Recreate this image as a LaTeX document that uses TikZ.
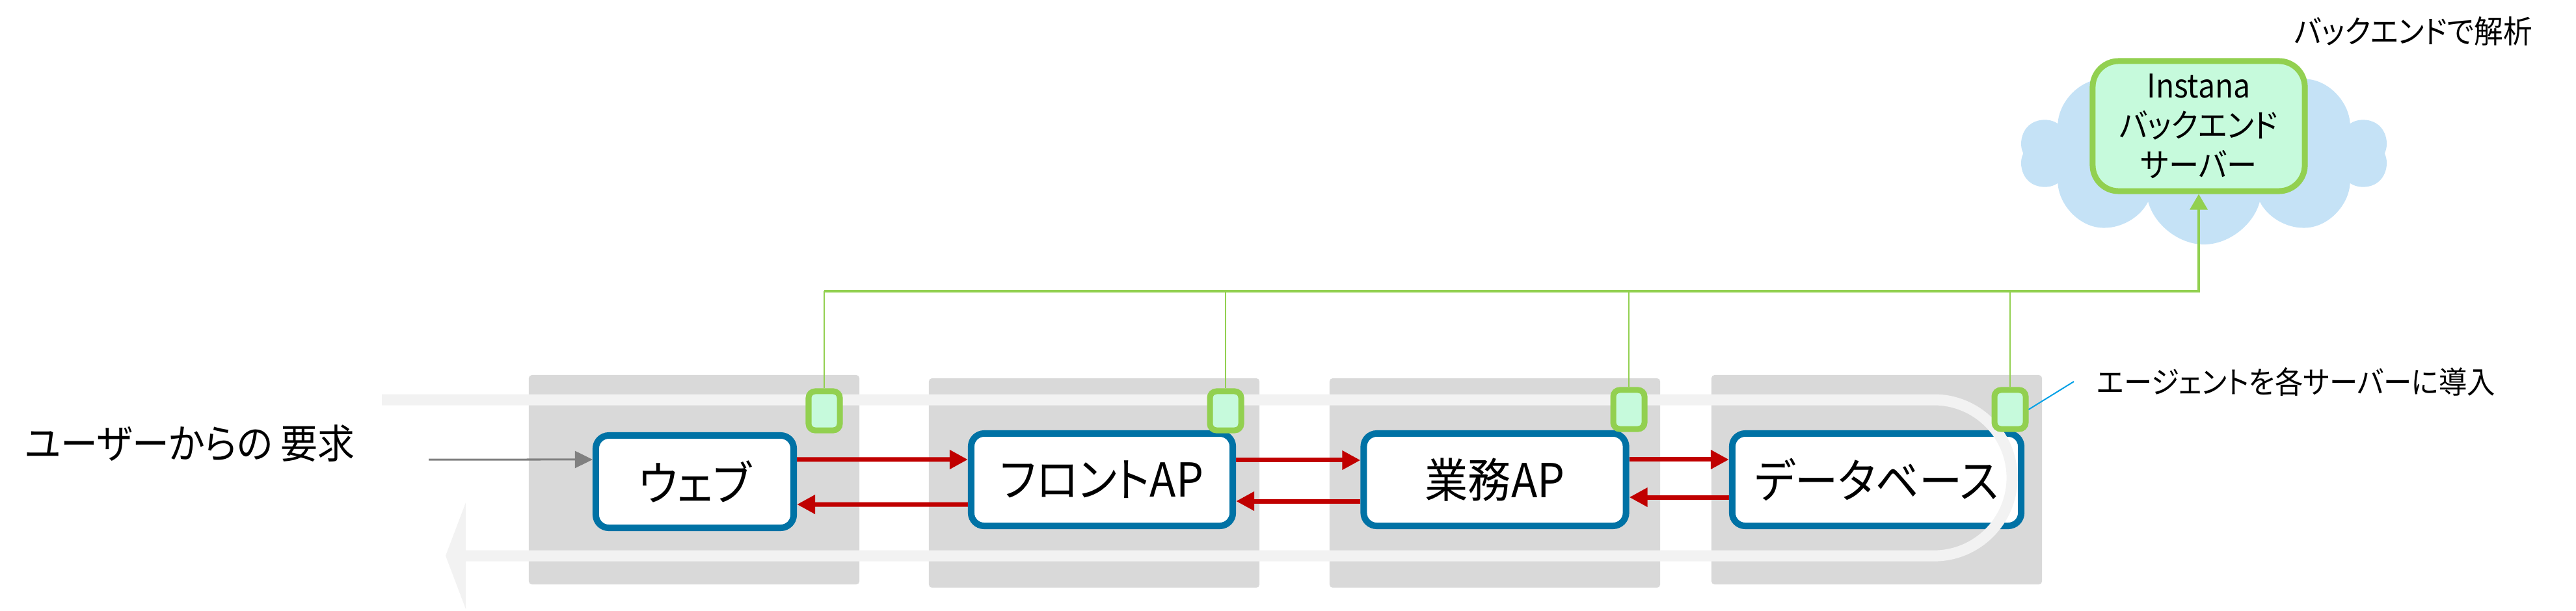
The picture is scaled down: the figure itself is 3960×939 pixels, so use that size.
\documentclass[tikz,border=0pt]{standalone}
\usepackage{xcolor}
\usepackage{fontspec}
\usepackage{tikz}
\usetikzlibrary{positioning,shapes,arrows.meta}
\setmainfont{Noto Sans CJK JP}[RawFeature=+palt, FakeStretch=0.92]
\definecolor{srvgray}{RGB}{217,217,217}
\definecolor{flowgray}{RGB}{242,242,242}
\definecolor{apblue}{RGB}{0,114,165}
\definecolor{agentgreen}{RGB}{146,208,80}
\definecolor{agentfill}{RGB}{198,250,220}
\definecolor{cloudblue}{RGB}{197,226,246}
\definecolor{reqred}{RGB}{192,0,0}
\definecolor{noteblue}{RGB}{0,160,230}

\begin{document}
\begin{tikzpicture}[
  x=0.01cm, y=-0.01cm,
  server/.style={rectangle, fill=srvgray, rounded corners=0.05cm, minimum width=5.08cm, minimum height=3.22cm, inner sep=0pt},
  box/.style={rectangle, draw=apblue, line width=0.1cm, fill=white, rounded corners=0.2cm, minimum height=1.42cm, font=\fontsize{20.5}{24}\selectfont},
  agent/.style={rectangle, draw=agentgreen, line width=0.09cm, fill=agentfill, rounded corners=0.1cm, minimum width=0.48cm, minimum height=0.6cm, inner sep=0pt},
  backend/.style={rectangle, draw=agentgreen, line width=0.09cm, fill=agentfill, rounded corners=0.4cm, minimum width=3.26cm, minimum height=2cm, align=center, font=\fontsize{14.3}{17.4}\selectfont},
  flow/.style={draw=flowgray, line width=0.17cm, -{Triangle[length=0.31cm,width=1.63cm]}},
  arrow/.style={draw=reqred, line width=0.07cm, -{Triangle[length=0.28cm,width=0.28cm]}},
  reqarrow/.style={draw=gray, line width=0.03cm, -{Triangle[length=0.27cm,width=0.26cm]}},
  link/.style={draw=agentgreen, line width=0.02cm},
  trunk/.style={draw=agentgreen, line width=0.035cm},
  noteline/.style={draw=noteblue, line width=0.02cm}
]
  \useasboundingbox (0,0) rectangle (3960,939);

  % Servers
  \node[server] (srv1) at (1067,738) {};
  \node[server] (srv2) at (1682,743) {};
  \node[server] (srv3) at (2298,743) {};
  \node[server] (srv4) at (2885,738) {};

  % Nodes
  \node[box, minimum width=3.04cm] (web) at (1068,741) {ウェブ};
  \node[box, minimum width=4.02cm] (front) at (1694,738) {フロントAP};
  \node[box, minimum width=4.03cm] (biz) at (2298,738) {業務AP};
  \node[box, minimum width=4.44cm] (db) at (2885,738) {データベース};

  % Request flow
  \coordinate (flowin) at (587,615);
  \coordinate (flowturn) at (2973,615);
  \coordinate (flowout) at (685,855);
  \draw[flow] (flowin) -- (flowturn) arc[start angle=90, end angle=-90, radius=1.2cm] -- (flowout);

  % Agents
  \node[agent] (ag1) at (1267,632) {};
  \node[agent] (ag2) at (1884,632) {};
  \node[agent] (ag3) at (2504,630) {};
  \node[agent] (ag4) at (3090,630) {};

  % Backend
  \node[cloud, cloud puffs=10, aspect=2, fill=cloudblue, minimum width=5.65cm, minimum height=2.8cm] (cloud) at (3388,236) {};
  \node[backend] (instana) at (3380,194) {Instana\\バックエンド\\サーバー};
  \node[font=\fontsize{13.8}{16}\selectfont] (title) at (3710,48) {バックエンドで解析};
  \node[anchor=west, inner xsep=0.35cm, font=\fontsize{13.4}{16}\selectfont] (note) at (3188,587) {エージェントを各サーバーに導入};
  \node[font=\fontsize{17.6}{20}\selectfont] (req) at (292,682) {ユーザーからの 要求};
  \coordinate (reqin) at (659,707);
  \coordinate (hub) at (3380,448);

  % Arrows
  \draw[reqarrow] (reqin) -- ([yshift=0.34cm]web.west);
  \draw[arrow] ([yshift=0.34cm]web.east) -- ([yshift=0.31cm]front.west);
  \draw[arrow] ([yshift=-0.38cm]front.west) -- ([yshift=-0.35cm]web.east);
  \draw[arrow] ([yshift=0.3cm]front.east) -- ([yshift=0.3cm]biz.west);
  \draw[arrow] ([yshift=-0.33cm]biz.west) -- ([yshift=-0.33cm]front.east);
  \draw[arrow] ([yshift=0.31cm]biz.east) -- ([yshift=0.31cm]db.west);
  \draw[arrow] ([yshift=-0.27cm]db.west) -- ([yshift=-0.27cm]biz.east);

  \foreach \a in {ag1,ag2,ag3,ag4}
    \draw[link] (\a.north) -- (\a.north |- hub);
  \draw[trunk, -{Triangle[length=0.24cm,width=0.27cm]}] (ag1.north |- hub) -- (hub) -- (instana.south);
  \draw[noteline] (note.west) -- (ag4.east);
\end{tikzpicture}
\end{document}
